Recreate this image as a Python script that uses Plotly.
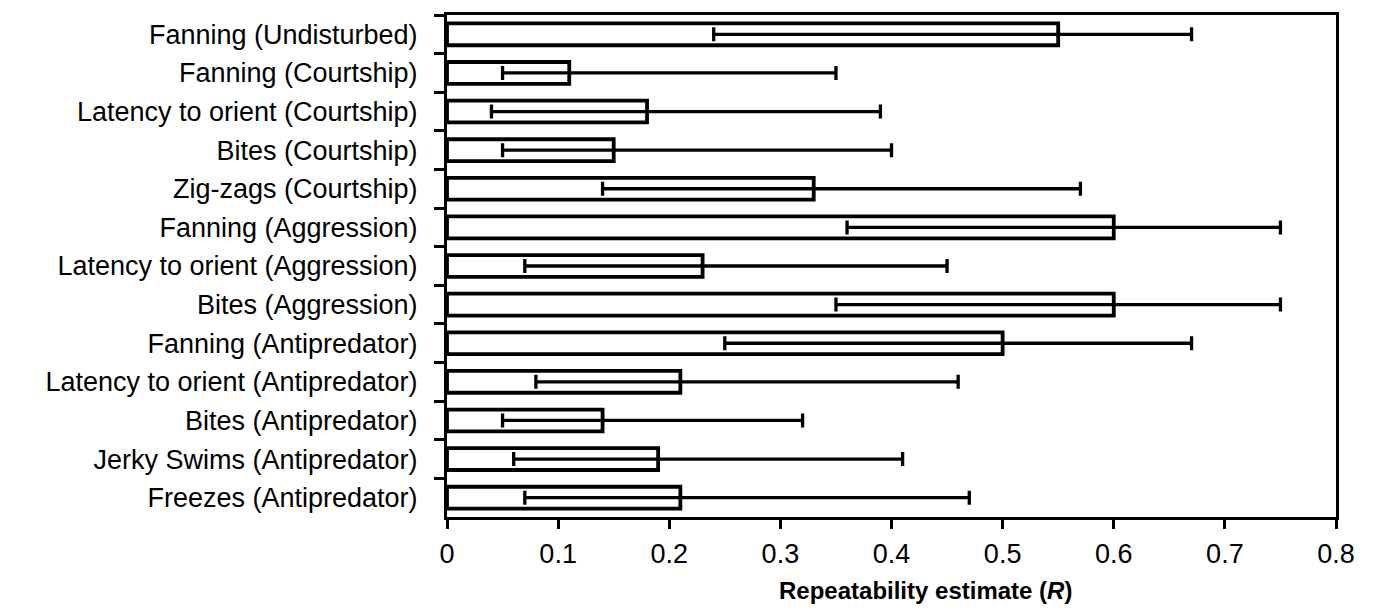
import plotly.graph_objects as go

categories = [
    "Fanning (Undisturbed)",
    "Fanning (Courtship)",
    "Latency to orient (Courtship)",
    "Bites (Courtship)",
    "Zig-zags (Courtship)",
    "Fanning (Aggression)",
    "Latency to orient (Aggression)",
    "Bites (Aggression)",
    "Fanning (Antipredator)",
    "Latency to orient (Antipredator)",
    "Bites (Antipredator)",
    "Jerky Swims (Antipredator)",
    "Freezes (Antipredator)",
]
estimate = [0.55, 0.11, 0.18, 0.15, 0.33, 0.60, 0.23, 0.60, 0.50, 0.21, 0.14, 0.19, 0.21]
ci_lower = [0.24, 0.05, 0.04, 0.05, 0.14, 0.36, 0.07, 0.35, 0.25, 0.08, 0.05, 0.06, 0.07]
ci_upper = [0.67, 0.35, 0.39, 0.40, 0.57, 0.75, 0.45, 0.75, 0.67, 0.46, 0.32, 0.41, 0.47]

x_tick_vals = [0, 0.1, 0.2, 0.3, 0.4, 0.5, 0.6, 0.7, 0.8]
x_tick_text = ["0", "0.1", "0.2", "0.3", "0.4", "0.5", "0.6", "0.7", "0.8"]

err_plus = [u - e for u, e in zip(ci_upper, estimate)]
err_minus = [e - l for e, l in zip(estimate, ci_lower)]

FONT = "Liberation Sans, Arial, sans-serif"

fig = go.Figure(
    go.Bar(
        y=categories,
        x=estimate,
        orientation="h",
        marker=dict(color="white", line=dict(color="black", width=3.8)),
        error_x=dict(
            type="data",
            symmetric=False,
            array=err_plus,
            arrayminus=err_minus,
            color="black",
            thickness=3.3,
            width=7,
        ),
        showlegend=False,
    )
)

fig.update_layout(
    width=1366,
    height=608,
    margin=dict(l=439, r=38, t=4, b=99),
    paper_bgcolor="white",
    plot_bgcolor="white",
    bargap=0.434,
    font=dict(family=FONT, color="black"),
)

fig.update_yaxes(
    autorange="reversed",
    tickson="boundaries",
    ticks="outside",
    ticklen=10,
    tickwidth=2.5,
    tickcolor="black",
    showline=True,
    linewidth=3,
    linecolor="black",
    mirror=True,
    showgrid=False,
    tickfont=dict(size=27, family=FONT, color="black"),
    ticklabelstandoff=21,
)

fig.update_xaxes(
    range=[0, 0.8],
    tickvals=x_tick_vals,
    ticktext=x_tick_text,
    ticks="outside",
    ticklen=9,
    tickwidth=2.5,
    tickcolor="black",
    showline=True,
    linewidth=3,
    linecolor="black",
    mirror=True,
    showgrid=False,
    zeroline=False,
    tickfont=dict(size=27, family=FONT, color="black"),
    ticklabelstandoff=2,
)

fig.add_annotation(
    text="<b>Repeatability estimate (<i>R</i>)</b>",
    xref="paper",
    yref="paper",
    x=0.5377,
    y=-0.1465,
    xanchor="center",
    yanchor="middle",
    showarrow=False,
    font=dict(size=24, family=FONT, color="black"),
)

fig.write_html("out.html")
